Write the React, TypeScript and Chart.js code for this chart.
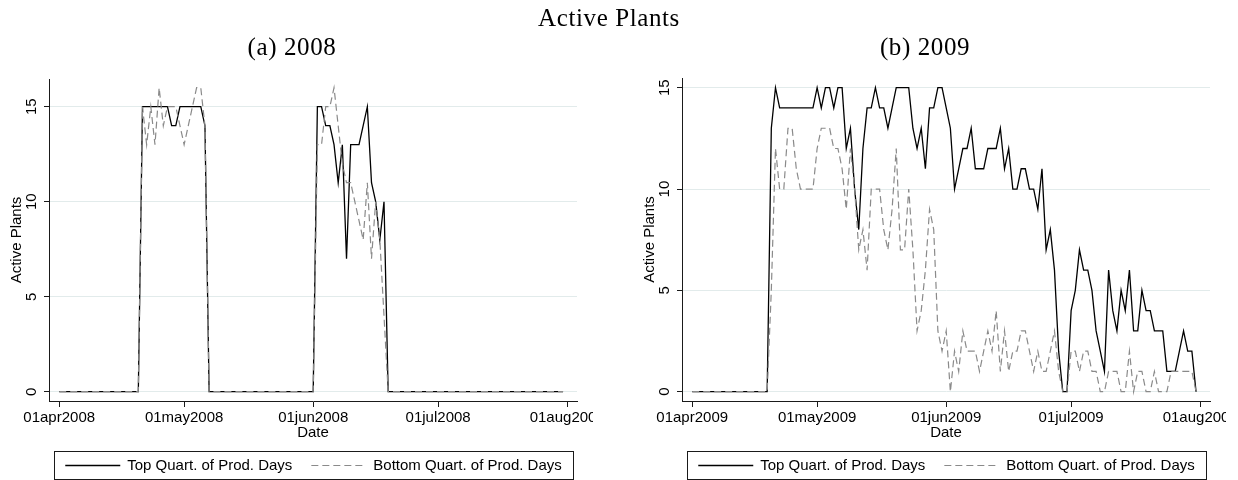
import React, { useEffect, useRef } from "react";
import { Chart, registerables } from "chart.js";

Chart.register(...registerables);

// ---------- data ----------
const tickDays = [0, 30, 61, 91, 122]; // days after 1 April
const tickLabels2008 = ["01apr2008", "01may2008", "01jun2008", "01jul2008", "01aug2008"];
const tickLabels2009 = ["01apr2009", "01may2009", "01jun2009", "01jul2009", "01aug2009"];
const yTicks = [0, 5, 10, 15];
const seriesNames = ["Top Quart. of Prod. Days", "Bottom Quart. of Prod. Days"];

// daily values, 1 April .. 31 July
const top2008 = [
  0, 0, 0, 0, 0, 0, 0, 0, 0, 0, 0, 0, 0, 0, 0, 0, 0, 0, 0, 0,
  15, 15, 15, 15, 15, 15, 15, 14, 14, 15, 15, 15, 15, 15, 15, 14,
  0, 0, 0, 0, 0, 0, 0, 0, 0, 0, 0, 0, 0, 0, 0, 0, 0, 0, 0, 0, 0, 0, 0, 0, 0, 0,
  15, 15, 14, 14, 13, 11, 13, 7, 13, 13, 13, 14, 15, 11, 10, 8, 10,
  0, 0, 0, 0, 0, 0, 0, 0, 0, 0, 0, 0, 0, 0, 0, 0, 0, 0, 0, 0, 0, 0,
  0, 0, 0, 0, 0, 0, 0, 0, 0, 0, 0, 0, 0, 0, 0, 0, 0, 0, 0, 0, 0,
];
const bottom2008 = [
  0, 0, 0, 0, 0, 0, 0, 0, 0, 0, 0, 0, 0, 0, 0, 0, 0, 0, 0, 0,
  15, 13, 15, 13, 16, 14, 15, 15, 15, 14, 13, 14, 15, 16, 16, 14,
  0, 0, 0, 0, 0, 0, 0, 0, 0, 0, 0, 0, 0, 0, 0, 0, 0, 0, 0, 0, 0, 0, 0, 0, 0, 0,
  13, 13, 15, 15, 16, 14, 12, 11, 11, 10, 9, 8, 11, 7, 10, 8, 4,
  0, 0, 0, 0, 0, 0, 0, 0, 0, 0, 0, 0, 0, 0, 0, 0, 0, 0, 0, 0, 0, 0,
  0, 0, 0, 0, 0, 0, 0, 0, 0, 0, 0, 0, 0, 0, 0, 0, 0, 0, 0, 0, 0,
];
const top2009 = [
  0, 0, 0, 0, 0, 0, 0, 0, 0, 0, 0, 0, 0, 0, 0, 0, 0, 0, 0,
  13, 15, 14, 14, 14, 14, 14, 14, 14, 14, 14, 15, 14, 15, 15, 14, 15, 15, 12, 13, 10,
  8, 12, 14, 14, 15, 14, 14, 13, 14, 15, 15, 15, 15, 13, 12, 13, 11, 14, 14, 15,
  15, 14, 13, 10, 11, 12, 12, 13, 11, 11, 11, 12, 12, 12, 13, 11, 12, 10, 10, 11,
  11, 10, 10, 9, 11, 7, 8, 6, 2, 0, 0, 4, 5, 7, 6, 6, 5, 3, 2, 1,
  6, 4, 3, 5, 4, 6, 3, 3, 5, 4, 4, 3, 3, 3, 1, 1, 1, 2, 3, 2,
  2, 0,
];
const bottom2009 = [
  0, 0, 0, 0, 0, 0, 0, 0, 0, 0, 0, 0, 0, 0, 0, 0, 0, 0, 0,
  5, 12, 10, 10, 13, 13, 11, 10, 10, 10, 10, 12, 13, 13, 13, 12, 12, 11, 9, 12, 10,
  7, 8, 6, 10, 10, 10, 8, 7, 9, 12, 7, 7, 10, 7, 3, 4, 6, 9, 8, 3,
  2, 3, 0, 2, 1, 3, 2, 2, 2, 1, 2, 3, 2, 4, 1, 3, 1, 2, 2, 3,
  3, 2, 1, 2, 1, 1, 2, 3, 1, 0, 0, 2, 2, 1, 2, 2, 1, 1, 0, 0,
  1, 1, 1, 0, 0, 2, 0, 1, 1, 0, 0, 1, 0, 0, 0, 1, 1, 1, 1, 1,
  1, 0,
];

// ---------- styling ----------
const SANS = '"Liberation Sans", Arial, Helvetica, sans-serif';
const SERIF = '"Liberation Serif", "Times New Roman", serif';
const TXT = 15;
const AXIS = "#1a1a1a";
const GRID = "#e2ebeb";
const PANEL_W = 593;
const PANEL_H = 480;

const legendPlugin = {
  id: "stataLegend",
  afterDraw(chart: any) {
    const { ctx, chartArea } = chart;
    const cx = (chartArea.left + chartArea.right) / 2;
    const boxW = 519;
    const boxTop = 451;
    const boxH = 28;
    const left = Math.round(cx - boxW / 2);
    ctx.save();
    ctx.font = `${TXT}px ${SANS}`;
    const ds = chart.data.datasets;
    const keyLen = 55;
    const gapKT = 7;
    const gapItems = 19;
    const w0 = ctx.measureText(ds[0].label).width;
    const w1 = ctx.measureText(ds[1].label).width;
    const contents = keyLen + gapKT + w0 + gapItems + keyLen + gapKT + w1;
    let x = left + (boxW - contents) / 2;
    const cy = boxTop + boxH / 2;
    // frame
    ctx.strokeStyle = AXIS;
    ctx.lineWidth = 1;
    ctx.setLineDash([]);
    ctx.strokeRect(left + 0.5, boxTop + 0.5, boxW, boxH);
    const widths = [w0, w1];
    ds.forEach((d: any, k: number) => {
      ctx.beginPath();
      ctx.strokeStyle = d.borderColor;
      ctx.lineWidth = d.borderWidth;
      ctx.setLineDash(d.borderDash || []);
      ctx.moveTo(x, Math.round(cy) + 0.5);
      ctx.lineTo(x + keyLen, Math.round(cy) + 0.5);
      ctx.stroke();
      ctx.setLineDash([]);
      x += keyLen + gapKT;
      ctx.fillStyle = "#000";
      ctx.textAlign = "left";
      ctx.textBaseline = "middle";
      ctx.fillText(d.label, x, cy + 0.5);
      x += widths[k] + gapItems;
    });
    ctx.restore();
  },
};

function makeConfig(
  top: number[],
  bottom: number[],
  labels: string[],
  yMin: number,
  yMax: number,
  padTop: number
): any {
  return {
    type: "line",
    data: {
      datasets: [
        {
          label: seriesNames[0],
          data: top.map((v, i) => ({ x: i, y: v })),
          borderColor: "#000000",
          borderWidth: 1.3,
          pointRadius: 0,
          tension: 0,
          fill: false,
          order: 1,
        },
        {
          label: seriesNames[1],
          data: bottom.map((v, i) => ({ x: i, y: v })),
          borderColor: "#8a8a8a",
          borderWidth: 1.2,
          borderDash: [7, 4],
          pointRadius: 0,
          tension: 0,
          fill: false,
          order: 0,
        },
      ],
    },
    options: {
      animation: false,
      responsive: false,
      maintainAspectRatio: false,
      events: [],
      layout: { padding: { left: 0, right: 16, top: padTop, bottom: 0 } },
      plugins: {
        legend: { display: false },
        tooltip: { enabled: false },
        title: { display: false },
      },
      scales: {
        x: {
          type: "linear",
          min: -2.45,
          max: 124.35,
          afterBuildTicks: (s: any) => {
            s.ticks = tickDays.map((v) => ({ value: v }));
          },
          afterFit: (s: any) => {
            s.height = 79;
            s.paddingLeft = 0;
            s.paddingRight = 0;
          },
          grid: {
            drawOnChartArea: false,
            drawTicks: true,
            tickLength: 6,
            tickColor: AXIS,
            tickWidth: 1,
          },
          border: { display: true, color: AXIS, width: 1 },
          ticks: {
            autoSkip: false,
            minRotation: 0,
            maxRotation: 0,
            padding: 2,
            color: "#000",
            font: { family: SANS, size: TXT },
            callback: (v: any) => {
              const k = tickDays.indexOf(Number(v));
              return k >= 0 ? labels[k] : "";
            },
          },
          title: {
            display: true,
            text: "Date",
            color: "#000",
            font: { family: SANS, size: TXT },
            padding: { top: 0, bottom: 38 },
          },
        },
        y: {
          type: "linear",
          min: yMin,
          max: yMax,
          afterBuildTicks: (s: any) => {
            s.ticks = yTicks.map((v) => ({ value: v }));
          },
          afterFit: (s: any) => {
            s.width = 49;
            s.paddingTop = 0;
            s.paddingBottom = 0;
          },
          grid: {
            color: GRID,
            lineWidth: 1,
            drawTicks: true,
            tickLength: 5,
            tickColor: AXIS,
            tickWidth: 1,
          },
          border: { display: true, color: AXIS, width: 1 },
          ticks: {
            minRotation: 90,
            maxRotation: 90,
            crossAlign: "center",
            padding: 4,
            color: "#000",
            font: { family: SANS, size: TXT },
            callback: (v: any) => String(v),
          },
          title: {
            display: true,
            text: "Active Plants",
            color: "#000",
            font: { family: SANS, size: TXT },
            padding: { top: 8, bottom: 0 },
          },
        },
      },
    },
    plugins: [legendPlugin],
  };
}

function Panel(props: {
  left: number;
  top: number[];
  bottom: number[];
  labels: string[];
  yMin: number;
  yMax: number;
  padTop: number;
}) {
  const ref = useRef<HTMLCanvasElement>(null);
  useEffect(() => {
    if (!ref.current) return;
    const chart = new Chart(
      ref.current,
      makeConfig(props.top, props.bottom, props.labels, props.yMin, props.yMax, props.padTop)
    );
    return () => chart.destroy();
  }, []);
  return (
    <div style={{ position: "absolute", left: props.left, top: 0, width: PANEL_W, height: PANEL_H }}>
      <canvas
        ref={ref}
        width={PANEL_W}
        height={PANEL_H}
        style={{ display: "block", width: PANEL_W, height: PANEL_H }}
      />
    </div>
  );
}

function Heading(props: { text: string; cx: number; top: number }) {
  return (
    <div
      style={{
        position: "absolute",
        left: props.cx - 200,
        width: 400,
        top: props.top,
        height: 30,
        lineHeight: "30px",
        textAlign: "center",
        fontFamily: SERIF,
        fontSize: 25,
        letterSpacing: "0.6px",
        color: "#000",
        whiteSpace: "nowrap",
      }}
    >
      {props.text}
    </div>
  );
}

export default function App() {
  return (
    <div
      style={{
        position: "absolute",
        left: 0,
        top: 0,
        width: 1238,
        height: 480,
        background: "#ffffff",
        overflow: "hidden",
      }}
    >
      <Panel left={0} top={top2008} bottom={bottom2008} labels={tickLabels2008} yMin={-0.489} yMax={16.458} padTop={79} />
      <Panel left={633} top={top2009} bottom={bottom2009} labels={tickLabels2009} yMin={-0.459} yMax={15.479} padTop={78} />
      <Heading text="Active Plants" cx={609} top={2.6} />
      <Heading text="(a) 2008" cx={292} top={31.6} />
      <Heading text="(b) 2009" cx={925} top={31.6} />
    </div>
  );
}
